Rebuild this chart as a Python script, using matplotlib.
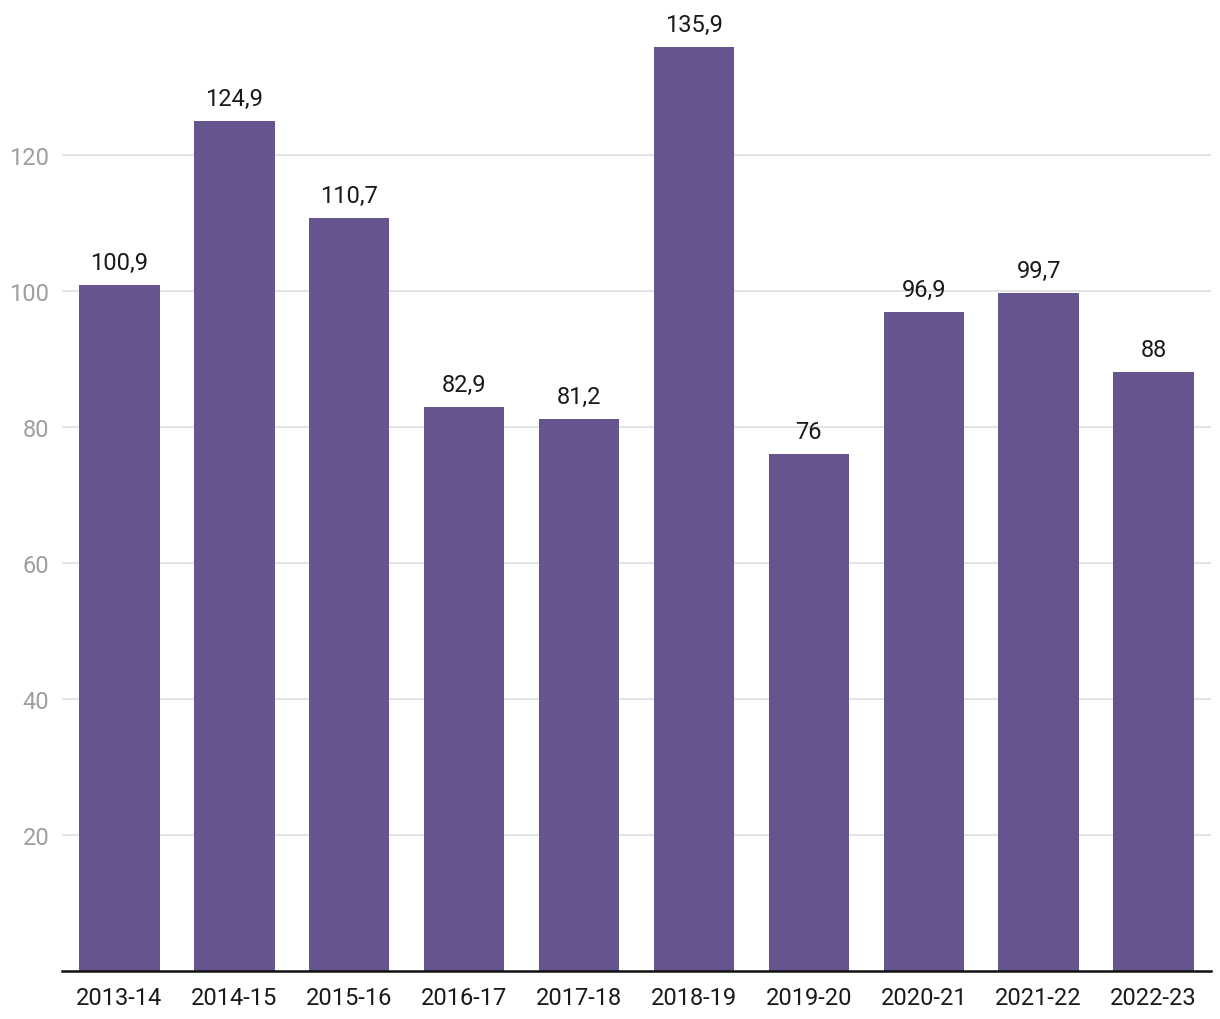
import matplotlib.pyplot as plt

seasons = ["2013-14", "2014-15", "2015-16", "2016-17", "2017-18",
           "2018-19", "2019-20", "2020-21", "2021-22", "2022-23"]
values = [100.9, 124.9, 110.7, 82.9, 81.2, 135.9, 76, 96.9, 99.7, 88]
y_ticks = [20, 40, 60, 80, 100, 120]


def fmt(v):
    s = f"{v:.1f}".replace(".", ",")
    return s[:-2] if s.endswith(",0") else s


def main():
    plt.rcParams["font.family"] = ["Roboto", "DejaVu Sans"]
    fig = plt.figure(figsize=(12.2, 10.2), dpi=100)
    ax = fig.add_axes([62 / 1220, 48 / 1020, 1149 / 1220, 972 / 1020])

    x = range(len(seasons))
    bars = ax.bar(x, values, width=0.7, color="#66548f", zorder=3)
    ax.bar_label(bars, labels=[fmt(v) for v in values], padding=8,
                 fontsize=17, color="#1a1a1a")

    ax.set_xlim(-0.5, len(seasons) - 0.5)
    ax.set_ylim(0, 142.9)
    ax.set_yticks(y_ticks)
    ax.set_xticks(list(x))
    ax.set_xticklabels(seasons)
    ax.grid(axis="y", color="#e0e0e0", linewidth=1.3, zorder=0)

    for side in ["top", "right", "left"]:
        ax.spines[side].set_visible(False)
    ax.spines["bottom"].set_linewidth(1.8)
    ax.spines["bottom"].set_color("#111111")
    ax.spines["bottom"].set_zorder(4)

    ax.tick_params(axis="y", length=0, pad=9, labelsize=17, labelcolor="#9e9e9e")
    ax.tick_params(axis="x", length=0, pad=11, labelsize=17, labelcolor="#1a1a1a")

    fig.savefig("out.png", dpi=100)


if __name__ == "__main__":
    main()
